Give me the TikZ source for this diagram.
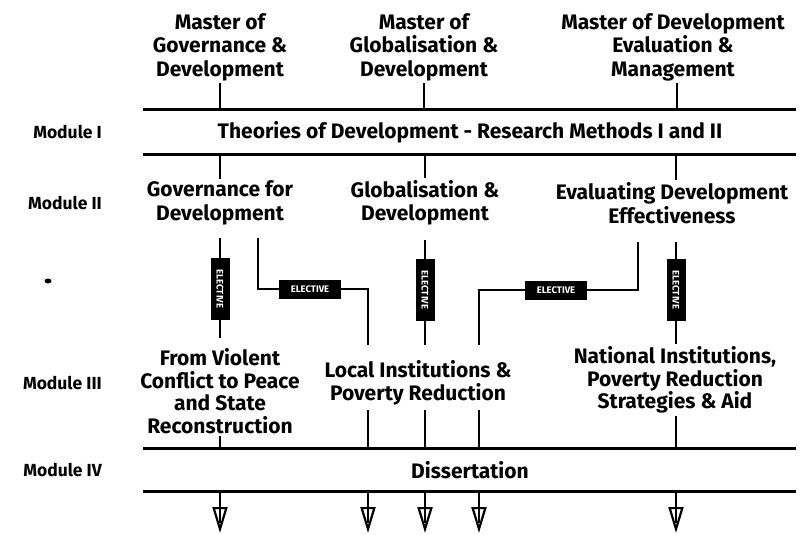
\documentclass[tikz,border=0pt]{standalone}
\usepackage{fontspec}
\setmainfont{Fira Sans}
\usetikzlibrary{arrows.meta,calc}
\begin{document}
\begin{tikzpicture}[x=1pt,y=-1pt,
  hl/.style={line width=3pt},
  vl/.style={line width=2.4pt},
  ttl/.style={font=\bfseries\fontsize{21}{23.5}\selectfont, align=center, inner sep=2pt},
  mthree/.style={font=\bfseries\fontsize{21}{22.5}\selectfont, align=center, inner sep=2pt},
  modlbl/.style={font=\bfseries\fontsize{17.5}{19}\selectfont, anchor=east, inner sep=0pt},
  elbox/.style={draw, fill=black, line width=1pt, minimum width=61pt, minimum height=18pt, inner sep=0pt, text=white, font=\bfseries\fontsize{9.5}{9.5}\selectfont},
  arr/.style={line width=2.2pt, -{Triangle[open, length=26pt, width=15pt, line width=2.2pt]}}
]
\useasboundingbox (0,0) rectangle (803,535);

% horizontal rules
\coordinate (L1a) at (143,109); \coordinate (L1b) at (796,109);
\coordinate (L2a) at (143,154); \coordinate (L2b) at (796,154);
\coordinate (L3a) at (143,448); \coordinate (L3b) at (796,448);
\coordinate (L4a) at (143,491); \coordinate (L4b) at (796,491);
\draw[hl] (L1a) -- (L1b);
\draw[hl] (L2a) -- (L2b);
\draw[hl] (L3a) -- (L3b);
\draw[hl] (L4a) -- (L4b);

% titles
\node[ttl] (t1) at (220,47) {Master of\\Governance \&\\Development};
\node[ttl] (t2) at (424,47) {Master of\\Globalisation \&\\Development};
\node[ttl] (t3) at (673,47) {Master of Development\\Evaluation \&\\Management};
\draw[vl] (t1.south) -- (t1.south |- L1a);
\draw[vl] (t2.south) -- (t2.south |- L1a);
\draw[vl] ($(t3.south)+(4,0)$) -- ($(t3.south |- L1a)+(4,0)$);

% module labels
\node[modlbl] (mod1) at (102,132) {Module I};
\node[modlbl] (mod2) at (102,203) {Module II};
\node[modlbl] (mod3) at (102,383) {Module III};
\node[modlbl] (mod4) at (102,470) {Module IV};

% module I
\node[ttl] (theo) at (470,132) {Theories of Development - Research Methods I and II};

% module II
\node[ttl] (m2a) at (220,203) {Governance for\\Development};
\node[ttl] (m2b) at (425,203) {Globalisation \&\\Development};
\node[ttl] (m2c) at (672,203) {Evaluating Development\\Effectiveness};
\draw[vl] (m2a.north |- L2a) -- (m2a.north);
\draw[vl] (m2b.north |- L2a) -- (m2b.north);
\draw[vl] ($(m2c.north |- L2a)+(4,0)$) -- ($(m2c.north)+(4,0)$);

% module III
\node[mthree] (m3a) at (220,391) {From Violent\\Conflict to Peace\\and State\\Reconstruction};
\node[mthree] (m3b) at (418,383) {Local Institutions \&\\Poverty Reduction};
\node[mthree] (m3c) at (675,380) {National Institutions,\\Poverty Reduction\\Strategies \& Aid};

% elective connectors
\coordinate (sa) at (220,238);
\coordinate (sb1) at (258,238);
\coordinate (sm) at (425,240);
\coordinate (sb2) at (638,242);
\coordinate (sc) at (676,242);

\draw[vl] (sa) -- ($(m3a.north)+(0,-8)$);
\draw[vl] (sm) -- ($(sm |- m3b.north)+(0,-14)$);
\draw[vl] (sc) -- (sc |- m3c.north);
\draw[vl] (sb1) |- (368,289) coordinate (c1) -- ($(c1 |- m3b.north)+(0,-14)$);
\draw[vl] (sb2) |- (479,290) coordinate (c2) -- ($(c2 |- m3b.north)+(0,-14)$);

\node[elbox, rotate=-90] (e1) at (220,289) {ELECTIVE};
\node[elbox, rotate=-90] (e2) at (425,290) {ELECTIVE};
\node[elbox, rotate=-90] (e3) at (676,290) {ELECTIVE};
\node[elbox] (h1) at (310,289) {ELECTIVE};
\node[elbox] (h2) at (556,290) {ELECTIVE};

% module III to line 3
\draw[vl] (m3a.south) -- (m3a.south |- L3a);
\draw[vl] ($(m3b.south -| c1)+(0,3)$) -- (c1 |- L3a);
\draw[vl] ($(m3b.south -| sm)+(0,3)$) -- (sm |- L3a);
\draw[vl] ($(m3b.south -| c2)+(0,3)$) -- (c2 |- L3a);
\draw[vl] (m3c.south -| sc) -- (sc |- L3a);

% module IV
\node[ttl] (diss) at (470,470) {Dissertation};

% stray mark
\fill (48,281) ellipse (3.5pt and 2.5pt);

% arrows
\foreach \x/\n in {220/a1,368/a2,425/a3,479/a4,676/a5}{
  \coordinate (\n s) at (\x,491);
  \coordinate (\n e) at (\x,533);
  \draw[arr] (\n s) -- (\n e);
  \draw[vl] (\n s) -- ++(0,32);
}
\end{tikzpicture}
\end{document}
